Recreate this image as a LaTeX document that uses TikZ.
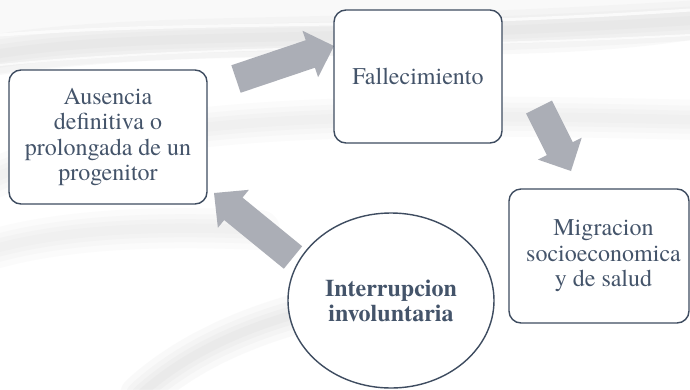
\documentclass[tikz,border=0pt]{standalone}
\usepackage{fontspec}
\setmainfont{texgyretermes}[Extension=.otf, UprightFont=*-regular, BoldFont=*-bold, ItalicFont=*-italic, BoldItalicFont=*-bolditalic]
\usetikzlibrary{shapes.geometric,calc}
\definecolor{txt}{HTML}{44546A}
\definecolor{bord}{HTML}{3E4C60}
\definecolor{arr}{HTML}{ABAEB6}
\definecolor{swoosh}{HTML}{A8A8A8}
\tikzset{
  box/.style={draw=bord, line width=1.4pt, rounded corners=12pt, fill=white,
    text=txt, align=center, inner sep=0pt, font=\fontsize{24}{25.5}\selectfont},
  oval/.style={ellipse, draw=bord, line width=1.4pt, fill=white, text=txt,
    align=center, inner sep=0pt, font=\fontsize{24}{25}\selectfont\bfseries},
  blockarrow/.style={fill=arr},
  soft/.style={line cap=round, draw=swoosh, draw opacity=#1},
}
\newcommand\blockarr[3]{%
  \coordinate (#3) at ($(#2)!25pt!(#1)$);
  \fill[blockarrow] ($(#1)!14.5pt!90:(#2)$) -- ($(#3)!14.5pt!90:(#2)$)
    -- ($(#3)!24.5pt!90:(#2)$) -- (#2) -- ($(#3)!24.5pt!-90:(#2)$)
    -- ($(#3)!14.5pt!-90:(#2)$) -- ($(#1)!14.5pt!-90:(#2)$) -- cycle;}
\begin{document}
\begin{tikzpicture}[x=1pt,y=-1pt]
\useasboundingbox (0,0) rectangle (690,389);
\fill[white] (0,0) rectangle (690,389);
% background swooshes
\begin{scope}
\clip (0,0) rectangle (690,389);
\fill[swoosh, opacity=0.06] (0,0) -- (690,0) -- (690,40) .. controls (500,70) and (250,40) .. (0,75) -- cycle;
\foreach \w in {40,28,18,9}{
  \draw[soft=0.05, line width=\w pt] (-10,55) .. controls (150,30) and (300,45) .. (700,20);
  \draw[soft=0.04, line width=\w pt] (-10,180) .. controls (120,120) and (300,110) .. (700,120);
  \draw[soft=0.06, line width=\w pt] (140,395) .. controls (200,340) and (300,300) .. (440,290);
  \draw[soft=0.04, line width=\w pt] (-10,250) .. controls (60,230) and (150,225) .. (260,230);
}
\draw[white, line width=3pt, opacity=0.7] (0,35) .. controls (200,20) and (400,30) .. (690,10);
\draw[white, line width=2pt, opacity=0.7] (0,65) .. controls (200,45) and (400,50) .. (690,35);
\end{scope}
% arrow anchor points
\coordinate (t1) at (236,79);   \coordinate (p1) at (334,46);
\coordinate (t2) at (539,107);  \coordinate (p2) at (571,171);
\coordinate (t3) at (293,257.5);\coordinate (p3) at (214,193);
\blockarr{t1}{p1}{b1}
\blockarr{t2}{p2}{b2}
\blockarr{t3}{p3}{b3}
% nodes
\node[box, minimum width=198pt, minimum height=134pt] (aus) at (108,137)
  {Ausencia\\definitiva o\\prolongada de un\\progenitor};
\node[box, minimum width=168pt, minimum height=133pt] (fal) at (418,76.5)
  {Fallecimiento};
\node[box, minimum width=180pt, minimum height=134pt] (mig) at (599,256)
  {\begin{tabular}{@{\hspace{9pt}}c@{}}Migracion\\socioeconomica\\y de salud\end{tabular}};
\node[oval, minimum width=206pt, minimum height=175pt] (int) at (391,300.5)
  {Interrupcion\\involuntaria};
\end{tikzpicture}
\end{document}
